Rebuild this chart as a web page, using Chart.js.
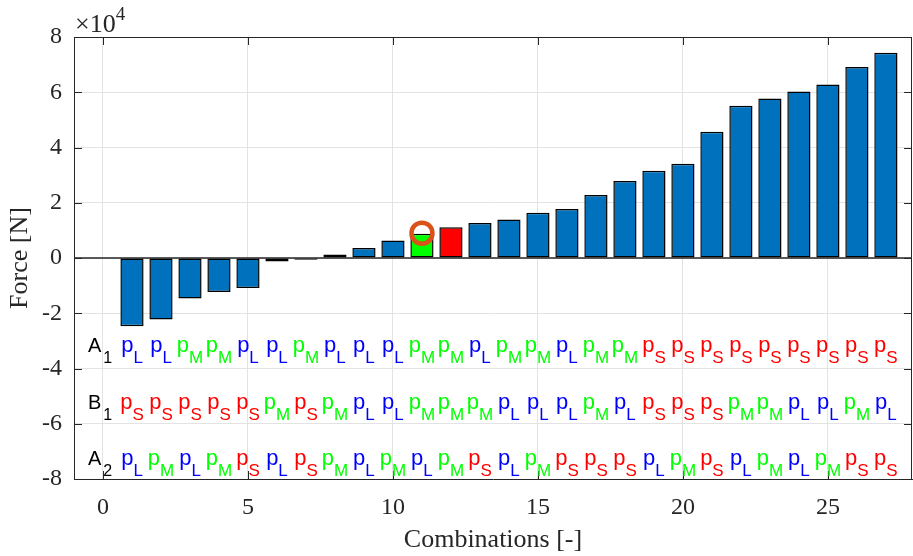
<!DOCTYPE html>
<html>
<head>
<meta charset="utf-8">
<script src="https://cdn.jsdelivr.net/npm/chart.js@4.4.0/dist/chart.umd.min.js"></script>
<style>
  html, body { margin: 0; padding: 0; background: #fff; }
  #wrap { width: 913px; height: 556px; }
</style>
</head>
<body>
<div id="wrap"><canvas id="grafico" width="913" height="556"></canvas></div>
<script>
// datos
const combinaciones = [1, 2, 3, 4, 5, 6, 7, 8, 9, 10, 11, 12, 13, 14, 15, 16, 17, 18, 19, 20, 21, 22, 23, 24, 25, 26, 27];
const fuerzas = [-24700, -22300, -14700, -12300, -10900, -1300, -600, 1300, 3600, 6300,
  8800, 11100, 12700, 13900, 16400, 17700, 22800, 27900, 31600, 34100,
  45700, 55100, 57700, 60300, 62800, 69100, 74300];
const resaltadas = { 8: '#FF0000', 11: '#00FF00', 12: '#FF0000' };
const marcador = [{ x: 11, y: 9000 }];

const xTicks = [0, 5, 10, 15, 20, 25];
const yTicks = [-80000, -60000, -40000, -20000, 0, 20000, 40000, 60000, 80000];

// filas de texto bajo las barras
const nombresFilas = [['A', '1'], ['B', '1'], ['A', '2']];
const filaA1 = ['L', 'L', 'M', 'M', 'L', 'L', 'M', 'L', 'L', 'L', 'M', 'M', 'L', 'M', 'M', 'L', 'M', 'M',
  'S', 'S', 'S', 'S', 'S', 'S', 'S', 'S', 'S'];
const filaB1 = ['S', 'S', 'S', 'S', 'S', 'M', 'S', 'M', 'L', 'L', 'M', 'M', 'M', 'L', 'L', 'L', 'M', 'L',
  'S', 'S', 'S', 'M', 'M', 'L', 'L', 'M', 'L'];
const filaA2 = ['L', 'M', 'L', 'M', 'S', 'L', 'S', 'M', 'L', 'M', 'L', 'M', 'S', 'L', 'M', 'S', 'S', 'S',
  'L', 'M', 'S', 'L', 'M', 'L', 'M', 'S', 'S'];
const filas = [filaA1, filaB1, filaA2];

// estilos y posiciones
const posFilas = [-34000, -54500, -75000];
const colorToken = { L: '#0000FF', M: '#00FF00', S: '#FF0000' };
const EJE = '#262626';
const GRILLA = '#e3e3e3';
const serif = "'Liberation Serif', 'Times New Roman', serif";
const sans = "'Liberation Sans', Arial, sans-serif";
const fuenteP = `22px ${sans}`;
const fuenteSub = `17px ${sans}`;

const pluginEjes = {
  id: 'ejes',
  beforeDatasetsDraw(chart) {
    const { ctx, chartArea: a, scales: { y } } = chart;
    const y0 = y.getPixelForValue(0);
    ctx.save();
    ctx.strokeStyle = EJE;
    ctx.lineWidth = 1.5;
    ctx.beginPath();
    ctx.moveTo(a.left, y0);
    ctx.lineTo(a.right, y0);
    ctx.stroke();
    ctx.restore();
  },
  afterDatasetsDraw(chart) {
    const { ctx, chartArea: a, scales: { x, y } } = chart;
    ctx.save();
    ctx.strokeStyle = EJE;
    ctx.lineWidth = 1;
    ctx.beginPath();
    ctx.moveTo(a.left, a.top + 0.5);
    ctx.lineTo(a.right, a.top + 0.5);
    ctx.moveTo(a.right - 0.5, a.top);
    ctx.lineTo(a.right - 0.5, a.bottom);
    xTicks.forEach(v => {
      const px = Math.round(x.getPixelForValue(v)) + 0.5;
      ctx.moveTo(px, a.bottom);
      ctx.lineTo(px, a.bottom - 8);
      ctx.moveTo(px, a.top);
      ctx.lineTo(px, a.top + 8);
    });
    yTicks.forEach(v => {
      const py = Math.round(y.getPixelForValue(v)) + 0.5;
      ctx.moveTo(a.left, py);
      ctx.lineTo(a.left + 8, py);
      ctx.moveTo(a.right, py);
      ctx.lineTo(a.right - 8, py);
    });
    ctx.stroke();

    // exponente del eje y
    ctx.fillStyle = EJE;
    ctx.textBaseline = 'alphabetic';
    ctx.textAlign = 'left';
    ctx.font = `26px ${serif}`;
    ctx.fillText('\u00d710', a.left + 1, a.top - 5);
    const w = ctx.measureText('\u00d710').width;
    ctx.font = `19px ${serif}`;
    ctx.fillText('4', a.left + 1 + w, a.top - 17);

    // filas A1, B1, A2
    filas.forEach((fila, f) => {
      const base = y.getPixelForValue(posFilas[f]);
      ctx.fillStyle = '#000';
      ctx.font = `20px ${sans}`;
      const lx = x.getPixelForValue(-0.52);
      ctx.fillText(nombresFilas[f][0], lx, base);
      const lw = ctx.measureText(nombresFilas[f][0]).width;
      ctx.font = `16px ${sans}`;
      ctx.fillText(nombresFilas[f][1], lx + lw + 2, base + 11);

      fila.forEach((t, i) => {
        const cx = x.getPixelForValue(combinaciones[i]);
        ctx.font = fuenteP;
        const pw = ctx.measureText('p').width;
        ctx.font = fuenteSub;
        const sw = ctx.measureText(t).width;
        const x0 = cx - (pw + sw) / 2;
        ctx.fillStyle = colorToken[t];
        ctx.font = fuenteP;
        ctx.fillText('p', x0, base);
        ctx.font = fuenteSub;
        ctx.fillText(t, x0 + pw, base + 11);
      });
    });
    ctx.restore();
  }
};

const ctx = document.getElementById('grafico').getContext('2d');
const chart = new Chart(ctx, {
  type: 'bar',
  data: {
    datasets: [{
      type: 'bar',
      order: 1,
      data: combinaciones.map((c, i) => ({ x: c, y: fuerzas[i] })),
      backgroundColor: combinaciones.map(c => resaltadas[c] || '#0072BD'),
      borderColor: '#000000',
      borderWidth: 1.5,
      borderSkipped: false,
      barPercentage: 0.8,
      categoryPercentage: 1
    }, {
      type: 'scatter',
      order: 0,
      data: marcador,
      pointRadius: 10.5,
      pointBorderWidth: 4.5,
      pointBorderColor: '#D95319',
      pointBackgroundColor: 'rgba(0,0,0,0)'
    }]
  },
  options: {
    responsive: false,
    animation: false,
    devicePixelRatio: 1,
    layout: { autoPadding: false, padding: { top: 37, right: 1, left: 0, bottom: 0 } },
    plugins: { legend: { display: false }, tooltip: { enabled: false } },
    scales: {
      x: {
        type: 'linear',
        min: -1,
        max: 27.9,
        offset: false,
        grid: { color: GRILLA, drawTicks: false, offset: false },
        border: { color: EJE, width: 1 },
        afterBuildTicks: s => { s.ticks = xTicks.map(v => ({ value: v })); },
        afterFit: s => { s.height = 77; s.paddingLeft = 0; s.paddingRight = 0; },
        ticks: { font: { family: serif, size: 24 }, color: EJE, padding: 14, maxRotation: 0 },
        title: { display: true, text: 'Combinations [-]', font: { family: serif, size: 26 }, color: EJE, padding: { top: 0, bottom: 0 } }
      },
      y: {
        min: -80000,
        max: 80000,
        grid: { color: GRILLA, drawTicks: false },
        border: { color: EJE, width: 1 },
        afterBuildTicks: s => { s.ticks = yTicks.map(v => ({ value: v })); },
        afterFit: s => { s.width = 74; s.paddingTop = 0; s.paddingBottom = 0; },
        ticks: { font: { family: serif, size: 24 }, color: EJE, padding: 12, callback: v => v / 10000 },
        title: { display: true, text: 'Force [N]', font: { family: serif, size: 26 }, color: EJE, padding: { top: 5, bottom: 0 } }
      }
    }
  },
  plugins: [pluginEjes]
});
</script>
</body>
</html>
